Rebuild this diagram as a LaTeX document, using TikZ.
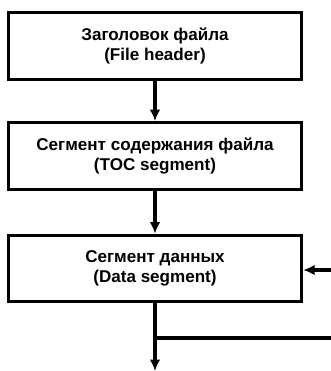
\documentclass[tikz,border=0pt]{standalone}
\usepackage{fontspec}
\setmainfont{Liberation Sans}
\usetikzlibrary{arrows.meta,positioning}
\tikzset{
  segbox/.style ={rectangle, draw=black, line width=2.4pt, fill=white,
                  align=center, inner sep=3pt, minimum width=220pt,
                  minimum height=50pt,
                  font=\fontsize{12.8}{15}\selectfont\bfseries},
  ar/.style     ={-{Latex[length=3mm,width=2.8mm]}, draw=black, line width=2.6pt},
  ln/.style     ={draw=black, line width=2.6pt}
}

\begin{document}
\begin{tikzpicture}[x=0.75pt,y=-0.75pt]
\useasboundingbox (0,0) rectangle (330,371);
\node[segbox] (hdr) at (155,46)
  {Заголовок файла\\(File header)};
\node[segbox] (toc) at (155,156)
  {Сегмент содержания файла\\(TOC segment)};
\node[segbox] (data) at (155,268.5)
  {Сегмент данных\\(Data segment)};

\coordinate (out) at (155,371);
\coordinate (loopout) at (331,338);
\coordinate (loopin) at (331,270);

\draw[ar] (hdr) -- (toc);
\draw[ar] (toc) -- (data);
\draw[ar] (data) -- (out);
\draw[ln] (data.south |- loopout) -- (loopout);
\draw[ar] (loopin) -- (data.east |- loopin);
\end{tikzpicture}
\end{document}
